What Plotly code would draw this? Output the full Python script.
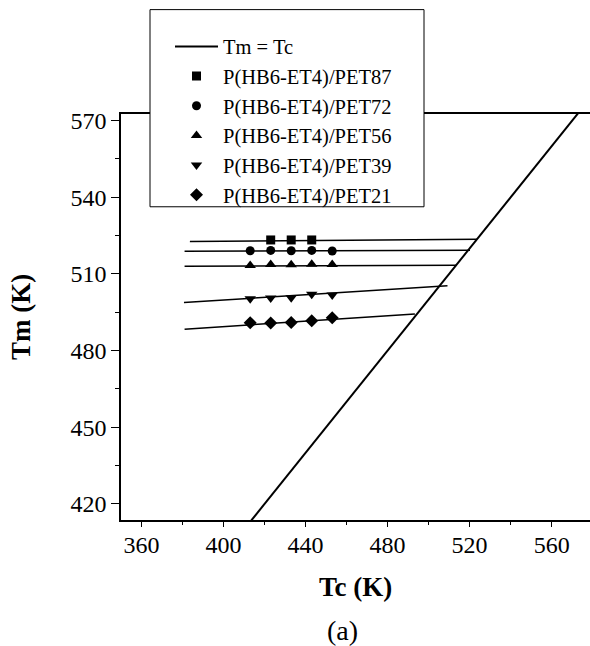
import plotly.graph_objects as go

# ---- data ----
tc_87 = [423, 433, 443]
tm_87 = [523.3, 523.3, 523.3]
tc_pts = [413, 423, 433, 443, 453]
tm_72 = [519.1, 519.2, 519.1, 519.2, 519.0]
tm_56 = [513.3, 513.7, 513.6, 513.8, 513.7]
tm_39 = [500.3, 500.6, 500.7, 502.1, 501.8]
tm_21 = [490.9, 490.8, 491.0, 491.7, 492.9]

# fitted lines (start / end) per series
fit_87_x = [383.6, 523.5]
fit_87_y = [522.7, 523.6]
fit_72_x = [381.0, 520.2]
fit_72_y = [518.9, 519.3]
fit_56_x = [381.0, 513.7]
fit_56_y = [513.0, 513.4]
fit_39_x = [380.7, 509.2]
fit_39_y = [498.8, 505.4]
fit_21_x = [381.0, 493.3]
fit_21_y = [488.4, 494.3]

# Tm = Tc reference line
eq_line = [350, 580]

x_ticks = [360, 400, 440, 480, 520, 560]
y_ticks = [420, 450, 480, 510, 540, 570]

FONT = "Liberation Serif"

fig = go.Figure()

fig.add_trace(go.Scatter(x=eq_line, y=eq_line, mode="lines", name="Tm = Tc",
                         line=dict(color="black", width=2)))

for fx, fy in [(fit_87_x, fit_87_y), (fit_72_x, fit_72_y), (fit_56_x, fit_56_y),
               (fit_39_x, fit_39_y), (fit_21_x, fit_21_y)]:
    fig.add_trace(go.Scatter(x=fx, y=fy, mode="lines", showlegend=False,
                             line=dict(color="black", width=1.5)))

series = [
    ("P(HB6-ET4)/PET87", tc_87, tm_87, "square", 9),
    ("P(HB6-ET4)/PET72", tc_pts, tm_72, "circle", 9),
    ("P(HB6-ET4)/PET56", tc_pts, tm_56, "triangle-up", 10),
    ("P(HB6-ET4)/PET39", tc_pts, tm_39, "triangle-down", 10),
    ("P(HB6-ET4)/PET21", tc_pts, tm_21, "diamond", 10),
]
for name, xs, ys, sym, sz in series:
    fig.add_trace(go.Scatter(x=xs, y=ys, mode="markers", name=name,
                             marker=dict(symbol=sym, size=sz, color="black")))

L, R, T, B = 121, 590, 114.3, 520
W, H = R - L, B - T

def px(xp):
    return (xp - L) / W

def py(yp):
    return (B - yp) / H

fig.add_shape(type="rect", xref="paper", yref="paper",
              x0=px(150), x1=px(424), y0=py(207), y1=py(10),
              fillcolor="white", line=dict(color="black", width=1), layer="above")

fig.add_annotation(text="(a)", xref="paper", yref="paper", x=px(342), y=py(630),
                   xanchor="center", yanchor="middle", showarrow=False,
                   font=dict(family=FONT, size=28, color="black"))

fig.update_layout(
    width=590, height=646,
    margin=dict(l=121, r=0, t=114, b=126),
    paper_bgcolor="white", plot_bgcolor="white",
    font=dict(family=FONT, color="black", size=24),
    legend=dict(x=px(170), y=py(27), xanchor="left", yanchor="top",
                bgcolor="rgba(0,0,0,0)", borderwidth=0, itemwidth=43,
                font=dict(family=FONT, size=20.5, color="black")),
)

fig.update_xaxes(range=[350, 578.7], tickvals=x_ticks, ticks="outside", ticklen=5,
                 tickwidth=1.2, tickcolor="black", showline=True, linecolor="black",
                 linewidth=1.5, mirror=True, showgrid=False, zeroline=False,
                 ticklabelstandoff=-3,
                 minor=dict(dtick=20, tick0=360, ticks="outside", ticklen=3,
                            tickcolor="black", showgrid=False),
                 title=dict(text="<b>Tc (K)</b>", font=dict(family=FONT, size=27),
                            standoff=21),
                 tickfont=dict(family=FONT, size=24))

fig.update_yaxes(range=[413.7, 572.6], tickvals=y_ticks, ticks="outside", ticklen=8,
                 tickwidth=1.2, tickcolor="black", showline=True, linecolor="black",
                 linewidth=1.5, showgrid=False, zeroline=False,
                 minor=dict(dtick=15, tick0=420, ticks="outside", ticklen=4,
                            tickcolor="black", showgrid=False),
                 title=dict(text="<b>Tm (K)</b>", font=dict(family=FONT, size=27),
                            standoff=32),
                 tickfont=dict(family=FONT, size=24))

fig.write_html("out.html")
